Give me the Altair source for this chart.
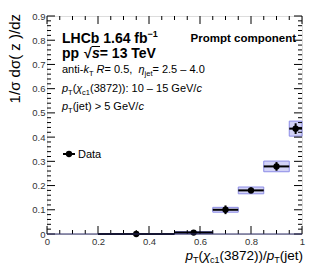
import altair as alt
import pandas as pd

# ---------------- data ----------------
bin_lo = [0.2, 0.5, 0.65, 0.75, 0.85, 0.95]
bin_hi = [0.5, 0.65, 0.75, 0.85, 0.95, 1.0]
x_center = [0.35, 0.575, 0.70, 0.80, 0.90, 0.975]
value = [0.0, 0.006, 0.100, 0.180, 0.279, 0.435]
stat_err = [0.0, 0.005, 0.018, 0.012, 0.018, 0.022]
syst_err = [0.0, 0.004, 0.010, 0.014, 0.022, 0.031]

x_major = [0.0, 0.2, 0.4, 0.6, 0.8, 1.0]
x_minor = [0.05, 0.1, 0.15, 0.25, 0.3, 0.35, 0.45, 0.5, 0.55, 0.65, 0.7, 0.75, 0.85, 0.9, 0.95]
y_major = [0.0, 0.1, 0.2, 0.3, 0.4, 0.5, 0.6, 0.7, 0.8, 0.9]
y_minor = [0.02, 0.04, 0.06, 0.08, 0.12, 0.14, 0.16, 0.18, 0.22, 0.24, 0.26, 0.28,
           0.32, 0.34, 0.36, 0.38, 0.42, 0.44, 0.46, 0.48, 0.52, 0.54, 0.56, 0.58,
           0.62, 0.64, 0.66, 0.68, 0.72, 0.74, 0.76, 0.78, 0.82, 0.84, 0.86, 0.88]

df = pd.DataFrame({"lo": bin_lo, "hi": bin_hi, "x": x_center, "v": value})
df["s_lo"] = [v - e for v, e in zip(value, stat_err)]
df["s_hi"] = [v + e for v, e in zip(value, stat_err)]
df["y_lo"] = [v - e for v, e in zip(value, syst_err)]
df["y_hi"] = [v + e for v, e in zip(value, syst_err)]

W, H = 255, 218          # plot area
OX, OY = 47, 16          # plot origin on the page
FONT = "Liberation Sans"

xs = alt.Scale(domain=[0, 1], nice=False, zero=False)
ys = alt.Scale(domain=[0, 0.9], nice=False, zero=False)
xax = alt.Axis(values=x_major, format="~g", ticks=False, tickSize=0, domain=False, grid=False,
               labelFont=FONT, labelFontSize=9.5, labelColor="#333333", labelPadding=2,
               labelFlush=False, title=None)
yax = alt.Axis(values=y_major, format="~g", ticks=False, tickSize=0, domain=False, grid=False,
               labelFont=FONT, labelFontSize=9.5, labelColor="#333333", labelPadding=2,
               title=None)


def X(field):
    return alt.X(field, type="quantitative", scale=xs, axis=xax)


def Y(field):
    return alt.Y(field, type="quantitative", scale=ys, axis=yax)


layers = []

# systematic boxes
layers.append(alt.Chart(df).mark_rect(fill="#d2d2f6", stroke="#8c8ce6", strokeWidth=1).encode(
    x=X("lo"), x2="hi", y=Y("y_lo"), y2="y_hi"))
# horizontal bin-width bars
layers.append(alt.Chart(df).mark_rule(color="black", strokeWidth=2).encode(
    x=X("lo"), x2="hi", y=Y("v")))
# vertical stat errors
layers.append(alt.Chart(df).mark_rule(color="black", strokeWidth=2).encode(
    x=X("x"), y=Y("s_lo"), y2="s_hi"))
# points
layers.append(alt.Chart(df).mark_point(filled=True, shape="circle", size=40, color="black", opacity=1).encode(
    x=X("x"), y=Y("v")))

# ---- ROOT-style inner ticks on all four sides ----
def tick_df(vals):
    return pd.DataFrame({"t": vals})

for vals, ln in ((y_major, 8), (y_minor, 4)):
    layers.append(alt.Chart(tick_df(vals)).mark_rule(color="black", strokeWidth=1).encode(
        y=Y("t"), x=alt.value(0), x2=alt.value(ln)))
    layers.append(alt.Chart(tick_df(vals)).mark_rule(color="black", strokeWidth=1).encode(
        y=Y("t"), x=alt.value(W), x2=alt.value(W - ln)))
for vals, ln in ((x_major, 8), (x_minor, 4)):
    layers.append(alt.Chart(tick_df(vals)).mark_rule(color="black", strokeWidth=1).encode(
        x=X("t"), y=alt.value(H), y2=alt.value(H - ln)))
    layers.append(alt.Chart(tick_df(vals)).mark_rule(color="black", strokeWidth=1).encode(
        x=X("t"), y=alt.value(0), y2=alt.value(ln)))

# bottom frame line (dark navy in reference)
layers.append(alt.Chart(tick_df([0.0])).mark_rule(color="#2c2c66", strokeWidth=1.2).encode(
    y=Y("t"), x=alt.value(0), x2=alt.value(W)))

# ---------------- text helpers ----------------
REG = {' ': 278, '(': 333, ')': 333, '-': 333, '.': 278, '/': 278, ':': 278, ',': 278,
       '=': 584, '>': 584, '–': 556, '−': 584, 'A': 667, 'C': 722, 'G': 778, 'H': 722,
       'L': 611, 'P': 667, 'R': 722, 'T': 611, 'V': 667, 'a': 556, 'b': 556, 'c': 500,
       'd': 556, 'e': 556, 'f': 278, 'i': 222, 'j': 222, 'k': 500, 'm': 833, 'n': 556,
       'o': 556, 'p': 556, 'r': 333, 's': 500, 't': 278, 'v': 500, 'z': 500,
       'η': 556, 'χ': 520, 'σ': 600, '√': 549}
BOLD = dict(REG)
BOLD.update({'b': 611, 'c': 556, 'f': 333, 'm': 889, 'n': 611, 'o': 611, 'p': 611,
             'r': 389, 's': 556, 't': 333, 'v': 556, 'e': 556})
for d in '0123456789':
    REG[d] = 556
    BOLD[d] = 556


def width(s, size, bold=False):
    tab = BOLD if bold else REG
    return sum(tab.get(c, 556) for c in s) * size / 1000.0


def text_layer(txt, px, py, size, bold=False, italic=False, align="left", angle=0):
    return alt.Chart(pd.DataFrame({"t": [txt]})).mark_text(
        font=FONT, fontSize=size, fontWeight="bold" if bold else "normal",
        fontStyle="italic" if italic else "normal", align=align, baseline="alphabetic",
        angle=angle, color="black").encode(
        text="t:N", x=alt.value(px - OX), y=alt.value(py - OY))


def run(segments, x0, base):
    """segments: (text, size, bold, italic, dy)"""
    out = []
    x = x0
    for txt, size, bold, italic, dy in segments:
        out.append(text_layer(txt, x, base + dy, size, bold, italic))
        x += width(txt, size, bold)
    return out, x


B = 14.0     # bold header size
S = 11.0     # normal text size
SUB = 7.5    # subscript size
L0 = 62

# line 1
layers += run([("LHCb 1.64 fb", B, True, False, 0), ("−1", 9, True, False, -6)], L0, 43)[0]
# line 2
layers += run([("pp", B, True, False, 0)], L0, 57.5)[0]
layers.append(text_layer("√", 84, 57.5, B, True))
layers += run([("s", B, True, True, 0), (" = 13 TeV", B, True, False, 0)], 92, 57.5)[0]
layers.append(alt.Chart(pd.DataFrame({"t": [0]})).mark_rule(color="black", strokeWidth=1).encode(
    x=alt.value(91.5 - OX), x2=alt.value(100 - OX), y=alt.value(46.5 - OY)))
# Prompt component
layers.append(text_layer("Prompt component", 296, 42, 11.5, True, align="right"))
# line 3
layers += run([("anti-", S, False, False, 0), ("k", S, False, True, 0), ("T", SUB, False, False, 2.5),
               (" ", S, False, False, 0), ("R", S, False, True, 0), (" = 0.5, ", S, False, False, 0),
               ("η", S, False, True, 0), ("jet", SUB, False, False, 2.5),
               (" = 2.5 – 4.0", S, False, False, 0)], L0, 73)[0]
# line 4
layers += run([("p", S, False, True, 0), ("T", SUB, False, False, 2.5), ("(", S, False, False, 0),
               ("χ", S, False, True, 0), ("c1", SUB, False, False, 2.5),
               ("(3872)): 10 – 15 GeV/", S, False, False, 0), ("c", S, False, True, 0)], L0, 92)[0]
# line 5
layers += run([("p", S, False, True, 0), ("T", SUB, False, False, 2.5),
               ("(jet) > 5 GeV/", S, False, False, 0), ("c", S, False, True, 0)], L0, 110)[0]

# legend
layers.append(alt.Chart(pd.DataFrame({"t": [0]})).mark_rule(color="black", strokeWidth=2).encode(
    x=alt.value(63 - OX), x2=alt.value(75 - OX), y=alt.value(154 - OY)))
layers.append(alt.Chart(pd.DataFrame({"t": [0]})).mark_point(
    filled=True, shape="circle", size=40, color="black", opacity=1).encode(
    x=alt.value(69 - OX), y=alt.value(154 - OY)))
layers.append(text_layer("Data", 78, 158, S))

# x-axis title (right aligned at the end of the axis)
TS, TSUB = 13.5, 9.0
xt = [("p", TS, False, True, 0), ("T", TSUB, False, False, 3), ("(", TS, False, False, 0),
      ("χ", TS, False, True, 0), ("c1", TSUB, False, False, 3), ("(3872))/", TS, False, False, 0),
      ("p", TS, False, True, 0), ("T", TSUB, False, False, 3), ("(jet)", TS, False, False, 0)]
xt_w = sum(width(t, s, b) for t, s, b, i, d in xt)
layers += run(xt, 303 - xt_w, 260)[0]

# y-axis title (rotated, right aligned at the top)
layers.append(text_layer("1/σ dσ( z )/dz", 20, 14, 15, align="right", angle=270))

chart = alt.layer(*layers).properties(
    width=W, height=H,
    autosize=alt.AutoSizeParams(type="none"),
    padding={"left": OX - 8, "top": OY - 8, "right": 5, "bottom": 30},
).configure_view(stroke="black", strokeWidth=1).configure(background="white")

chart.save("out.html", embed_options={"renderer": "svg", "actions": False})
